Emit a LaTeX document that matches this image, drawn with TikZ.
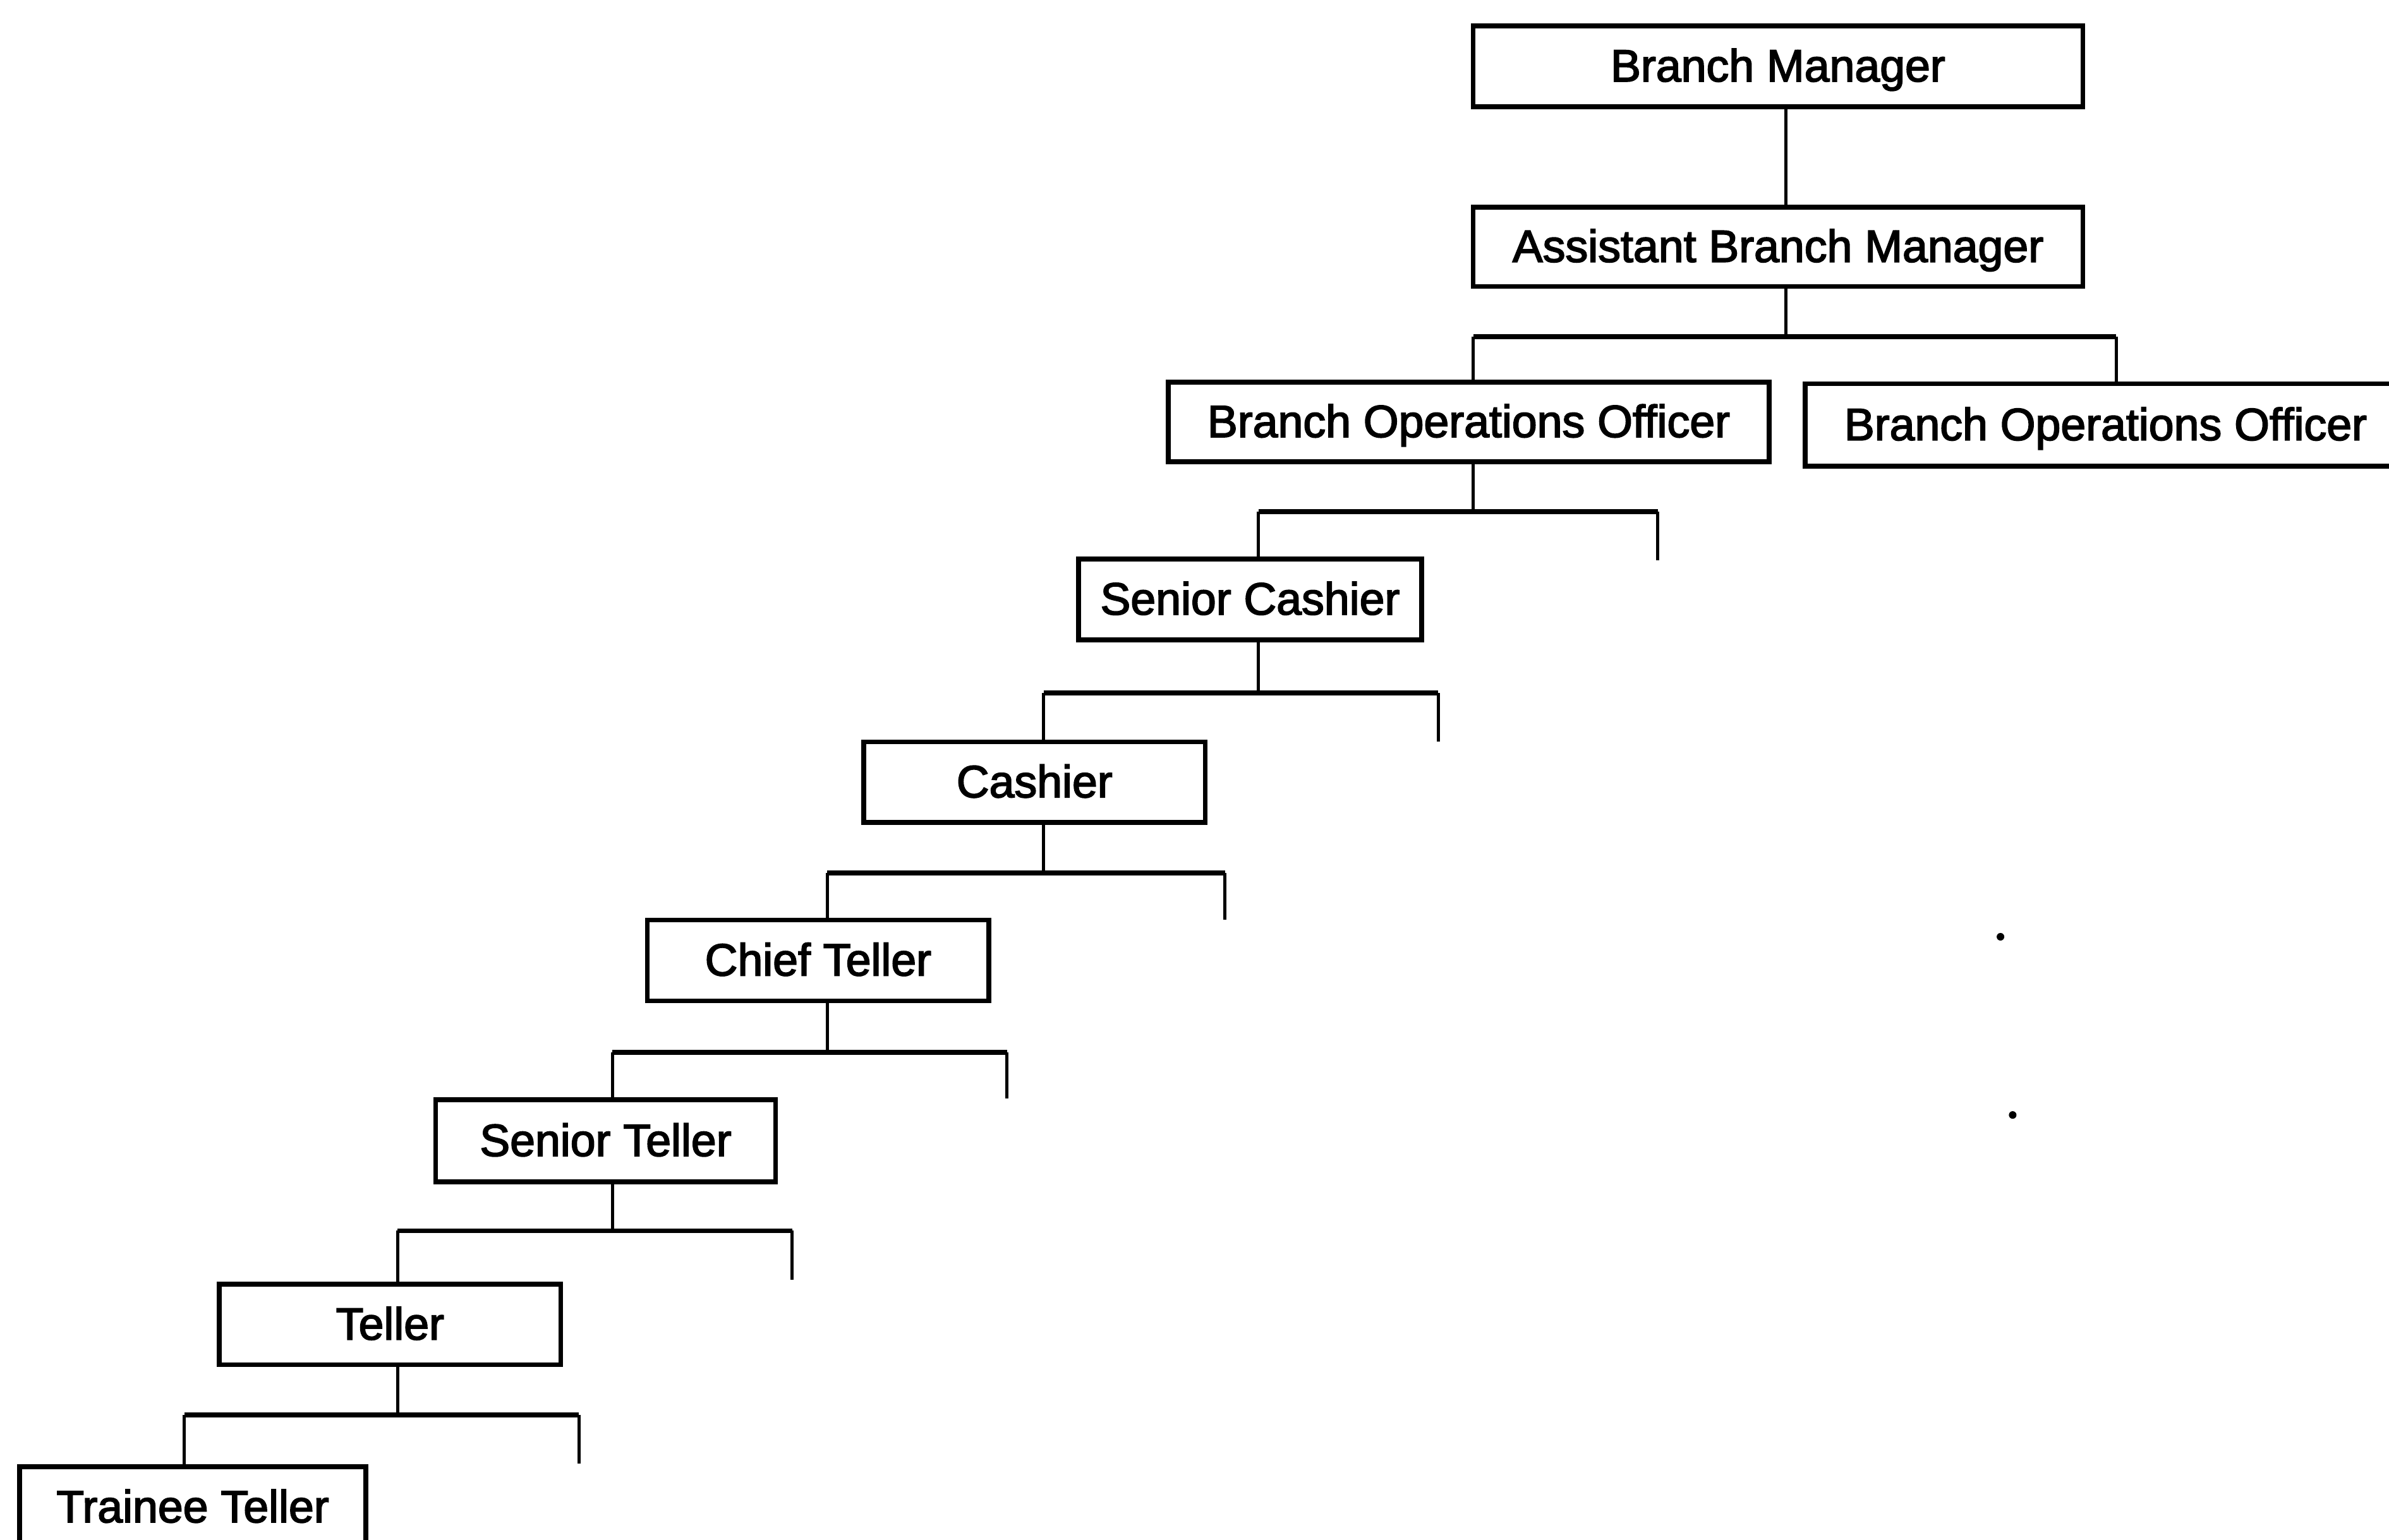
\documentclass[tikz,border=0pt]{standalone}
\usepackage{fontspec}
\newfontfamily\chartfont{Liberation Sans}[FakeBold=2.5]
\begin{document}
\begin{tikzpicture}[x=0.01cm,y=-0.01cm,
  post/.style={draw=black,line width=0.9pt,inner sep=0pt,minimum height=0.53cm,
    font=\chartfont\fontsize{8.45pt}{10pt}\selectfont,text height=0.716em,text depth=0.15em,fill=white},
  conn/.style={draw=black,line width=0.6pt},
  bar/.style={draw=black,line width=0.9pt}]
\useasboundingbox (0,0) rectangle (1568,1011);
\clip (0,0) rectangle (1568,1011);
% posts
\node[post,minimum width=4.00cm] (bm) at (1167,43.5) {Branch Manager};
\node[post,minimum width=4.00cm,minimum height=0.52cm] (abm) at (1167,162) {Assistant Branch Manager};
\node[post,minimum width=3.94cm,minimum height=0.52cm] (boo1) at (964,277) {Branch Operations Officer};
\node[post,minimum width=3.94cm,minimum height=0.54cm] (boo2) at (1382,279) {Branch Operations Officer};
\node[post,minimum width=2.25cm] (sc) at (820.5,393.5) {Senior Cashier};
\node[post,minimum width=2.24cm] (ca) at (679,513.5) {Cashier};
\node[post,minimum width=2.24cm] (ct) at (537,630.5) {Chief Teller};
\node[post,minimum width=2.23cm,minimum height=0.54cm] (st) at (397.5,749) {Senior Teller};
\node[post,minimum width=2.24cm] (te) at (256,869.5) {Teller};
\node[post,minimum width=2.27cm] (tt) at (126.5,989.5) {Trainee Teller};
% junction coordinates
\coordinate (k0) at (1172,0);
\coordinate (j1) at (1172,221); \coordinate (l1) at (967,221); \coordinate (r1) at (1389,221);
\coordinate (j2) at (967,336);  \coordinate (l2) at (826,336); \coordinate (r2) at (1088,336); \coordinate (e2) at (1088,368);
\coordinate (j3) at (826,455);  \coordinate (l3) at (685,455); \coordinate (r3) at (944,455);  \coordinate (e3) at (944,487);
\coordinate (j4) at (685,573);  \coordinate (l4) at (543,573); \coordinate (r4) at (804,573);  \coordinate (e4) at (804,604);
\coordinate (j5) at (543,691);  \coordinate (l5) at (402,691); \coordinate (r5) at (661,691);  \coordinate (e5) at (661,721);
\coordinate (j6) at (402,808);  \coordinate (l6) at (261,808); \coordinate (r6) at (520,808);  \coordinate (e6) at (520,840);
\coordinate (j7) at (261,929);  \coordinate (l7) at (121,929); \coordinate (r7) at (380,929);  \coordinate (e7) at (380,961);
% connectors
\draw[conn] (bm.south -| k0) -- (abm.north -| k0);
\draw[conn] (abm.south -| j1) -- (j1);
\draw[bar] (l1) -- (r1);
\draw[conn] (l1) -- (boo1.north -| l1);
\draw[conn] (r1) -- (boo2.north -| r1);
\draw[conn] (boo1.south -| j2) -- (j2);
\draw[bar] (l2) -- (r2);
\draw[conn] (l2) -- (sc.north -| l2);
\draw[conn] (r2) -- (e2);
\draw[conn] (sc.south -| j3) -- (j3);
\draw[bar] (l3) -- (r3);
\draw[conn] (l3) -- (ca.north -| l3);
\draw[conn] (r3) -- (e3);
\draw[conn] (ca.south -| j4) -- (j4);
\draw[bar] (l4) -- (r4);
\draw[conn] (l4) -- (ct.north -| l4);
\draw[conn] (r4) -- (e4);
\draw[conn] (ct.south -| j5) -- (j5);
\draw[bar] (l5) -- (r5);
\draw[conn] (l5) -- (st.north -| l5);
\draw[conn] (r5) -- (e5);
\draw[conn] (st.south -| j6) -- (j6);
\draw[bar] (l6) -- (r6);
\draw[conn] (l6) -- (te.north -| l6);
\draw[conn] (r6) -- (e6);
\draw[conn] (te.south -| j7) -- (j7);
\draw[bar] (l7) -- (r7);
\draw[conn] (l7) -- (tt.north -| l7);
\draw[conn] (r7) -- (e7);
% stray specks
\fill (1313,615) circle (2.5);
\fill (1321,732) circle (2.5);
\end{tikzpicture}
\end{document}
